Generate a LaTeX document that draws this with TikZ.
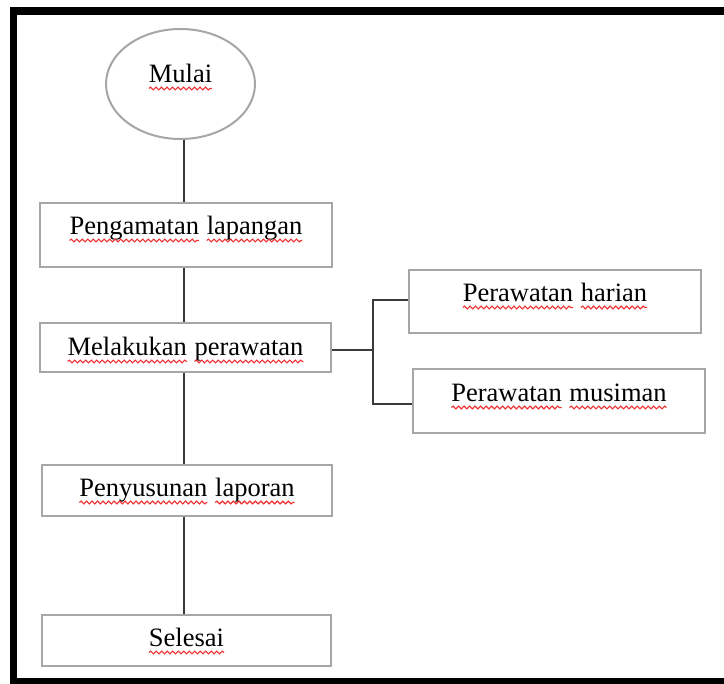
\documentclass[tikz,border=0pt]{standalone}
\usepackage{fontspec}
\setmainfont{Liberation Serif}
\usetikzlibrary{shapes.geometric,decorations.pathmorphing}
\definecolor{boxgray}{HTML}{A6A6A6}
\definecolor{linegray}{HTML}{3A3A3A}
\definecolor{sqred}{HTML}{F03030}
\newcommand\sq[1]{\tikz[baseline=(w.base)]{\node[inner sep=0pt,outer sep=0pt,minimum width=0pt,minimum height=0pt,text height=,text depth=,draw=none,anchor=base,shape=rectangle](w){#1};\draw[sqred,line width=1.1pt,decorate,decoration={snake,amplitude=1.4pt,segment length=5.5pt}]([yshift=-5.5pt]w.base west)--([yshift=-5.5pt]w.base east);}}
\begin{document}
\begin{tikzpicture}[x=1pt,y=-1pt,
 txt/.style={font=\fontsize{26.5}{30}\selectfont},
 box/.style={txt,draw=boxgray,line width=2pt,rectangle,inner sep=0pt,anchor=base},
 conn/.style={draw=linegray,line width=1.3pt}]
\useasboundingbox (0,0) rectangle (724,684);
\fill[white] (0,0) rectangle (724,684);
\draw[line width=7.5pt] (740,11) -- (13.5,11) -- (13.5,681.5) -- (740,681.5);

\node[txt,draw=boxgray,line width=2pt,ellipse,minimum width=149pt,minimum height=110pt,inner sep=0pt,text height=10pt,text depth=12pt] (start) at (180.5,84) {\sq{Mulai}};
\node[box,minimum width=292pt,text height=32pt,text depth=32pt] (b1) at (186,235) {\sq{Pengamatan} \sq{lapangan}};
\node[box,minimum width=291pt,text height=33pt,text depth=16pt] (b2) at (185.5,356) {\sq{Melakukan} \sq{perawatan}};
\node[box,minimum width=290pt,text height=32pt,text depth=19pt] (b3) at (187,497) {\sq{Penyusunan} \sq{laporan}};
\node[box,minimum width=289pt,text height=32pt,text depth=19pt] (b4) at (186.5,647) {\sq{Selesai}};
\node[box,minimum width=292pt,text height=32pt,text depth=31pt] (bA) at (555,302) {\sq{Perawatan} \sq{harian}};
\node[box,minimum width=292pt,text height=33pt,text depth=31pt] (bB) at (559,402) {\sq{Perawatan} \sq{musiman}};

\coordinate (sp) at (184,0);
\draw[conn] (start.south -| sp) -- (b1.north -| sp);
\draw[conn] (b1.south -| sp) -- (b2.north -| sp);
\draw[conn] (b2.south -| sp) -- (b3.north -| sp);
\draw[conn] (b3.south -| sp) -- (b4.north -| sp);
\coordinate (j) at (373,350);
\draw[conn] (b2.east |- j) -- (j);
\draw[conn] ([yshift=1.5pt]bA.west) -| (j) |- ([yshift=-3pt]bB.west);
\end{tikzpicture}
\end{document}
